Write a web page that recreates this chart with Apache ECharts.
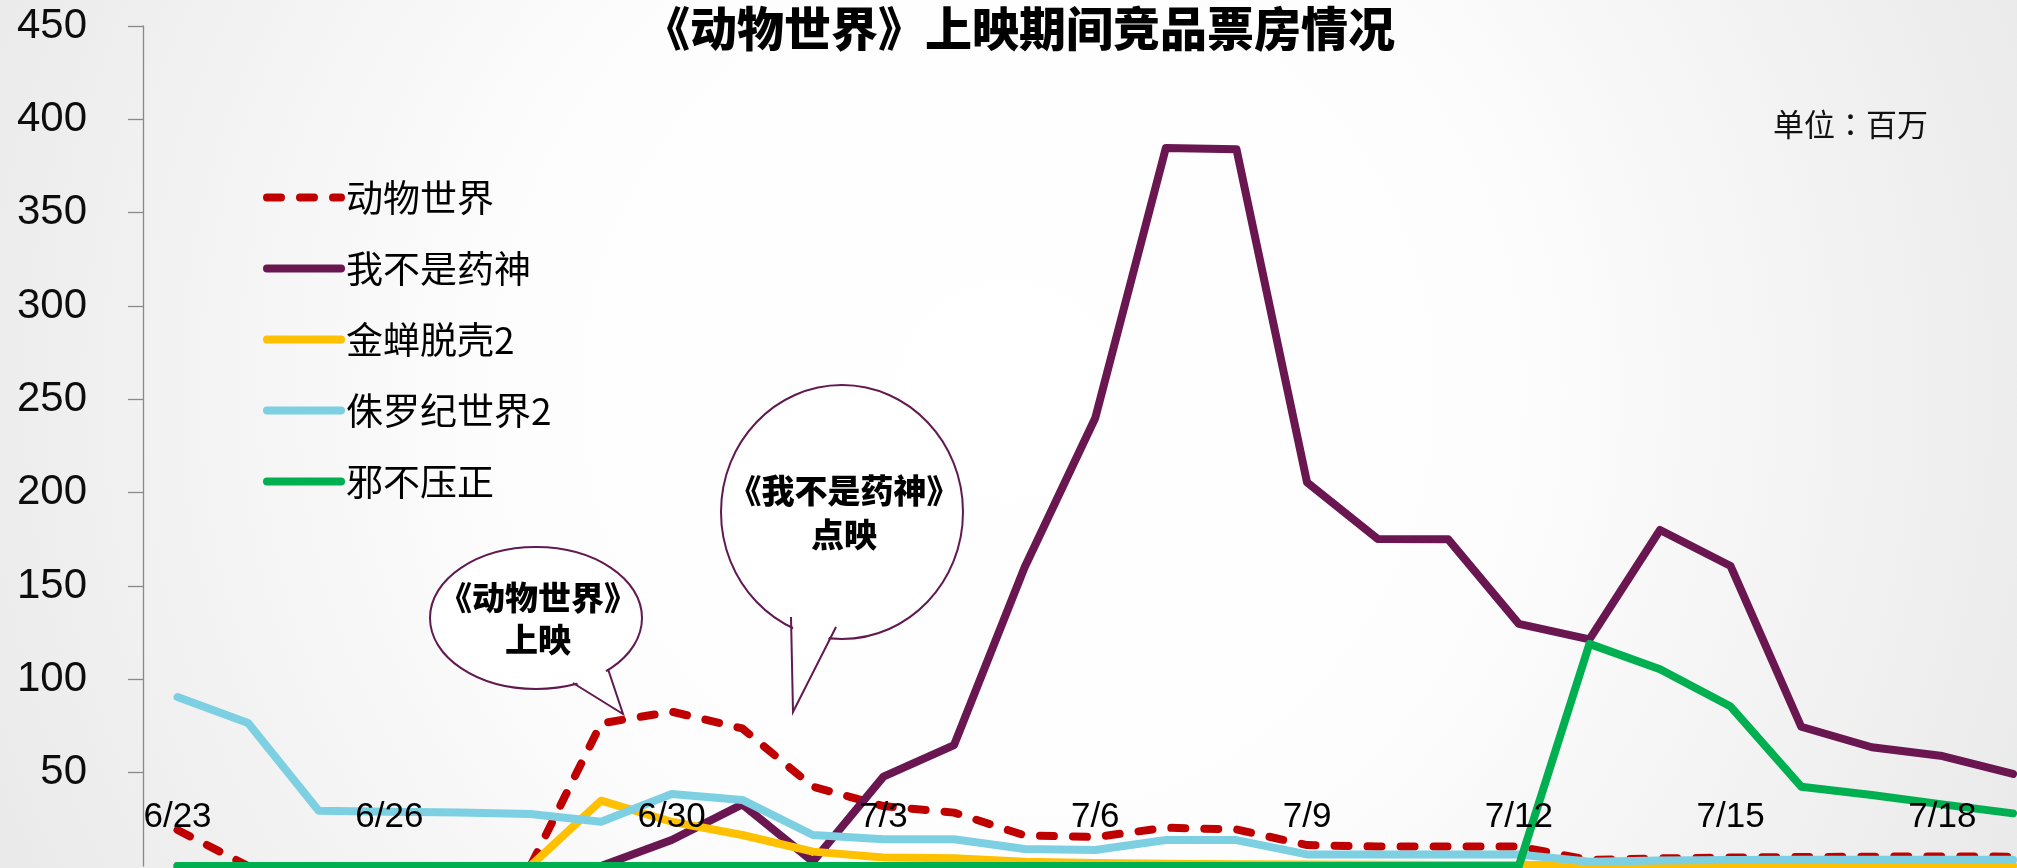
<!DOCTYPE html>
<html>
<head>
<meta charset="utf-8">
<script src="https://cdn.jsdelivr.net/npm/echarts@6/dist/echarts.min.js"></script>
<style>
html,body{margin:0;padding:0;background:#fff;}
#chart{width:2017px;height:868px;}
</style>
</head>
<body>
<div id="chart"></div>
<script>
// ---------- data ----------
const dates = ['6/23','6/24','6/25','6/26','6/27','6/28','6/29','6/30','7/1','7/2','7/3','7/4','7/5','7/6','7/7','7/8','7/9','7/10','7/11','7/12','7/13','7/14','7/15','7/16','7/17','7/18','7/19'];
const xTickLabels = ['6/23','6/26','6/30','7/3','7/6','7/9','7/12','7/15','7/18'];
const seriesNames = ['动物世界','我不是药神','金蝉脱壳2','侏罗纪世界2','邪不压正'];
const animalWorld   = [19.3,0,0,0,0,0,76.4,82.7,73.7,42.5,32.1,28.6,16.4,15.5,20.5,19.6,11.2,10.4,10.4,10.4,3.2,4.1,4.5,4.8,5.0,5.1,5.0];
const dyingSurvive  = [0,0,0,0,0,0,0,13.9,33,2.3,47.9,64.8,160,240,384.6,384,205.5,175.2,175,129.7,121.4,180,160.7,74.6,63.6,58.9,49.3];
const escapePlan2   = [0,0,0,0,0,0,35,23.7,16.6,7.7,4.5,4.1,2.3,1.6,1.2,1.0,0.8,0.7,0.6,0.5,0.5,0.4,0.4,0.3,0.3,0.3,0.3];
const jurassic2     = [90.5,76.6,29.6,29.1,28.6,27.9,23.7,38.6,35.4,16.6,14.3,14.3,9.1,8.6,13.9,13.9,6.2,6.2,6.2,6.2,2.3,3.0,3.2,3.3,3.3,3.3,3.3];
const evilNot       = [0,0,0,0,0,0,0,0,0,0,0,0,0,0,0,0,0,0,0,0,119,105.4,85.4,42.5,38,33,28.2];
const yTicks = {min:0, max:450, interval:50};
const titleText = '《动物世界》上映期间竞品票房情况';
const unitText = '单位：百万';
const bubble1Text = '《动物世界》\n上映';
const bubble2Text = '《我不是药神》\n点映';

// ---------- styles ----------
const colors = ['#C00000','#6A1650','#FFC000','#7DCFE2','#00B050'];
const CJK = '"Noto Sans CJK SC", "Noto Sans", sans-serif';
const NUM = '"Liberation Sans", Arial, sans-serif';
const bubbleStroke = '#611a50';

const chart = echarts.init(document.getElementById('chart'), null, {renderer:'canvas'});

function lineSeries(name, data, color, dashed){
  return {
    name, type:'line', data,
    symbol:'none', smooth:false,
    lineStyle:{color, width:8, type: dashed ? [14,19] : 'solid', cap:'round', join:'round'},
    itemStyle:{color},
    emphasis:{disabled:true},
    z: 2
  };
}

function bubble(cx, cy, rx, ry, base1, tip, base2, text, lh){
  const pull = (p)=>{
    const dx = cx - p[0], dy = cy - p[1]; const d = Math.sqrt(dx*dx+dy*dy);
    return [p[0] + dx/d*5, p[1] + dy/d*5];
  };
  return [
    {type:'ellipse', z:100, shape:{cx, cy, rx, ry}, style:{fill:'#fff', stroke:bubbleStroke, lineWidth:2}},
    {type:'polygon', z:101, shape:{points:[pull(base1), tip, pull(base2)]}, style:{fill:'#fff', stroke:null}},
    {type:'polyline', z:102, shape:{points:[base1, tip, base2]}, style:{fill:null, stroke:bubbleStroke, lineWidth:2}},
    {type:'text', z:103, x:cx + 2, y:cy, style:{text, fill:'#000', fontSize:33, fontWeight:900, fontFamily:CJK, align:'center', verticalAlign:'middle', lineHeight:lh}}
  ];
}

const option = {
  animation:false,
  backgroundColor:{
    type:'radial', x:0.5, y:0.45, r:1.3,
    colorStops:[{offset:0, color:'#ffffff'},{offset:0.45, color:'#fdfdfd'},{offset:1, color:'#e9e9e9'}]
  },
  title:{
    text:titleText, left:643, top:5, padding:0,
    textStyle:{fontSize:47, fontWeight:900, color:'#000', fontFamily:CJK}
  },
  legend:{
    data:seriesNames, orient:'vertical', left:263, top:179, padding:0,
    itemWidth:74, itemHeight:36, itemGap:34,
    itemStyle:{opacity:0},
    lineStyle:{width:8, cap:'round'},
    textStyle:{fontSize:37, color:'#000', fontFamily:CJK},
    selectedMode:false
  },
  grid:{left:177.5, top:26, width:1835.5, height:840, containLabel:false},
  xAxis:{
    type:'category', data:dates, boundaryGap:false, z:10,
    axisLine:{show:false},
    axisTick:{show:false},
    axisLabel:{
      inside:true, margin:31, fontSize:35, color:'#000', fontFamily:NUM,
      interval:(idx, val)=> xTickLabels.indexOf(val) >= 0
    },
    splitLine:{show:false}
  },
  yAxis:{
    type:'value', min:yTicks.min, max:yTicks.max, interval:yTicks.interval,
    offset:34.5,
    axisLine:{show:true, lineStyle:{color:'#898989', width:1.3}},
    axisTick:{show:true, length:15, lineStyle:{color:'#898989', width:1.3}},
    axisLabel:{fontSize:42, color:'#0d0d0d', margin:56, fontFamily:NUM, showMinLabel:false},
    splitLine:{show:false}
  },
  series:[
    lineSeries(seriesNames[0], animalWorld, colors[0], true),
    lineSeries(seriesNames[1], dyingSurvive, colors[1], false),
    lineSeries(seriesNames[2], escapePlan2, colors[2], false),
    lineSeries(seriesNames[3], jurassic2, colors[3], false),
    lineSeries(seriesNames[4], evilNot, colors[4], false)
  ],
  graphic:[
    {type:'text', x:1773, y:124, z:50, style:{text:unitText, fill:'#111', fontSize:31, fontFamily:'"Noto Sans CJK TC", "Noto Sans CJK SC", sans-serif', align:'left', verticalAlign:'middle'}},
    ...bubble(536, 618, 106, 71, [573,683], [623,714], [608,669], bubble1Text, 42),
    ...bubble(842, 512, 121, 127, [791,617], [793,712], [836,627], bubble2Text, 44)
  ]
};
chart.setOption(option);
</script>
</body>
</html>
